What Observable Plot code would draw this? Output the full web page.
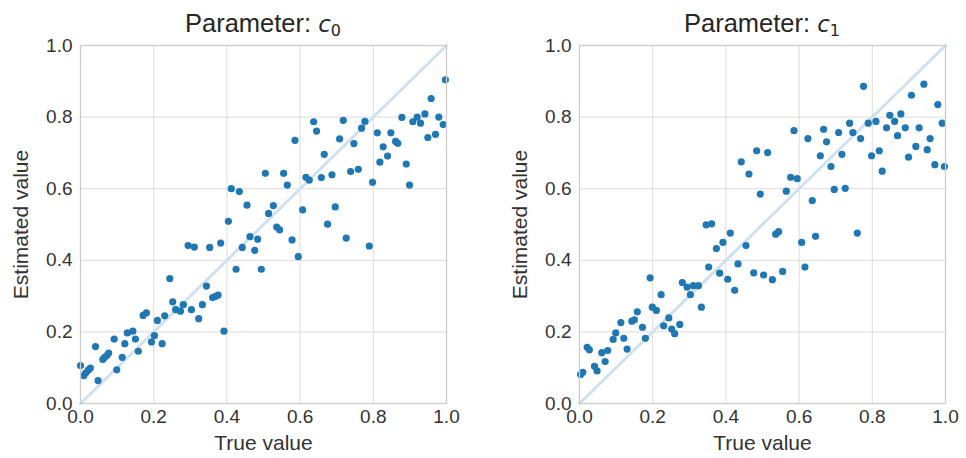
<!DOCTYPE html>
<html><head><meta charset="utf-8">
<script src="https://cdn.jsdelivr.net/npm/d3@7"></script>
<script src="https://cdn.jsdelivr.net/npm/@observablehq/plot@0.6"></script>
<style>
body{margin:0;background:#fff;font-family:"Liberation Sans",Arial,sans-serif;}
#wrap{position:relative;width:966px;height:458px;overflow:hidden;}
.panel{position:absolute;top:0;}
.title{box-sizing:border-box;height:40px;padding-top:11px;margin-left:80px;width:366px;text-align:center;font-size:25.5px;line-height:25.5px;color:#262626;white-space:nowrap;}
.title i{font-family:"DejaVu Sans";font-style:italic;font-size:23px;}
.title sub{font-family:"DejaVu Sans";font-size:16px;vertical-align:-4px;line-height:0;}
svg{display:block;}
</style></head>
<body><div id="wrap"></div>
<script>
const ticks = [0, 0.2, 0.4, 0.6, 0.8, 1.0];
const tickLabels = ["0.0", "0.2", "0.4", "0.6", "0.8", "1.0"];
const diag = [0, 1];

// Parameter c0
const c0True = [0.000,0.009,0.014,0.021,0.027,0.048,0.041,0.061,0.066,0.072,0.077,0.099,0.092,0.114,0.121,0.128,0.143,0.150,0.158,0.171,0.180,0.194,0.202,0.210,0.223,0.230,0.244,0.252,0.260,0.273,0.281,0.303,0.323,0.333,0.344,0.361,0.369,0.376,0.392,0.294,0.311,0.353,0.383,0.404,0.425,0.442,0.463,0.476,0.484,0.494,0.412,0.434,0.455,0.505,0.514,0.527,0.536,0.544,0.555,0.565,0.578,0.595,0.586,0.607,0.616,0.625,0.637,0.645,0.658,0.666,0.675,0.687,0.696,0.708,0.718,0.726,0.738,0.747,0.759,0.768,0.777,0.789,0.798,0.811,0.818,0.827,0.839,0.848,0.861,0.867,0.878,0.890,0.899,0.908,0.920,0.929,0.941,0.949,0.958,0.970,0.979,0.991,0.997];
const c0Est  = [0.106,0.078,0.085,0.093,0.099,0.064,0.159,0.123,0.129,0.134,0.141,0.094,0.180,0.129,0.167,0.197,0.202,0.180,0.146,0.246,0.253,0.172,0.190,0.232,0.167,0.245,0.349,0.284,0.262,0.258,0.276,0.262,0.237,0.276,0.328,0.296,0.299,0.303,0.202,0.441,0.437,0.436,0.448,0.509,0.375,0.436,0.466,0.428,0.459,0.375,0.600,0.592,0.554,0.643,0.531,0.553,0.493,0.485,0.643,0.610,0.457,0.410,0.735,0.541,0.632,0.624,0.787,0.761,0.631,0.696,0.501,0.639,0.549,0.739,0.791,0.462,0.648,0.726,0.654,0.769,0.788,0.440,0.618,0.756,0.674,0.717,0.691,0.756,0.732,0.727,0.799,0.669,0.610,0.787,0.800,0.783,0.809,0.743,0.852,0.752,0.800,0.779,0.904];

// Parameter c1
const c1True = [0.003,0.009,0.021,0.027,0.041,0.048,0.061,0.077,0.070,0.092,0.099,0.113,0.121,0.130,0.143,0.150,0.158,0.172,0.180,0.193,0.199,0.210,0.223,0.230,0.244,0.252,0.260,0.274,0.281,0.294,0.303,0.311,0.325,0.333,0.346,0.361,0.353,0.374,0.383,0.392,0.405,0.412,0.424,0.433,0.455,0.442,0.463,0.484,0.494,0.476,0.503,0.514,0.527,0.536,0.544,0.555,0.565,0.577,0.595,0.586,0.607,0.616,0.624,0.636,0.645,0.658,0.667,0.675,0.687,0.696,0.708,0.717,0.726,0.738,0.747,0.759,0.768,0.776,0.789,0.798,0.810,0.819,0.827,0.839,0.848,0.861,0.869,0.878,0.890,0.899,0.907,0.919,0.928,0.941,0.950,0.958,0.971,0.979,0.991,0.997];
const c1Est  = [0.081,0.087,0.157,0.150,0.104,0.091,0.142,0.148,0.117,0.179,0.197,0.226,0.182,0.152,0.230,0.234,0.256,0.213,0.182,0.351,0.269,0.260,0.304,0.217,0.239,0.208,0.195,0.221,0.338,0.325,0.304,0.329,0.329,0.269,0.499,0.502,0.381,0.433,0.364,0.450,0.347,0.476,0.316,0.390,0.441,0.675,0.641,0.706,0.585,0.365,0.359,0.701,0.346,0.473,0.480,0.369,0.593,0.632,0.628,0.762,0.450,0.381,0.740,0.567,0.467,0.692,0.766,0.731,0.662,0.598,0.757,0.696,0.601,0.783,0.757,0.476,0.740,0.886,0.783,0.692,0.788,0.706,0.649,0.770,0.805,0.788,0.748,0.809,0.770,0.688,0.861,0.718,0.770,0.892,0.709,0.740,0.667,0.835,0.783,0.662];

const panels = [
  {sub: "0", xs: c0True, ys: c0Est, left: 0, width: 499, mr: 53},
  {sub: "1", xs: c1True, ys: c1Est, left: 499, width: 467, mr: 21}
];

const wrap = document.getElementById("wrap");
for (const p of panels) {
  const data = p.xs.map((x, i) => ({x, y: p.ys[i]}));
  const div = document.createElement("div");
  div.className = "panel";
  div.style.left = p.left + "px";
  const t = document.createElement("div");
  t.className = "title";
  t.innerHTML = `Parameter: <i>c</i><sub>${p.sub}</sub>`;
  div.appendChild(t);
  const fmt = d => tickLabels[ticks.indexOf(d)];
  const chart = Plot.plot({
    width: p.width, height: 418,
    marginTop: 5, marginBottom: 55, marginLeft: 80, marginRight: p.mr,
    style: {fontSize: "19px", fontFamily: "'Liberation Sans', Arial, sans-serif", color: "#333", background: "#fff", overflow: "visible"},
    x: {domain: [0, 1]},
    y: {domain: [0, 1]},
    marks: [
      Plot.gridX(ticks, {stroke: "#dcdcdc", strokeOpacity: 1, strokeWidth: 1}),
      Plot.gridY(ticks, {stroke: "#dcdcdc", strokeOpacity: 1, strokeWidth: 1}),
      Plot.line(diag, {x: d => d, y: d => d, stroke: "#cfe1ef", strokeWidth: 3}),
      Plot.dot(data, {x: "x", y: "y", r: 3.6, fill: "#1f77b4", stroke: "none"}),
      Plot.frame({stroke: "#cccccc", strokeWidth: 1.3}),
      Plot.axisX(ticks, {tickSize: 0, tickPadding: 6, tickFormat: fmt, label: null}),
      Plot.axisX({label: "True value", labelAnchor: "center", labelArrow: "none", labelOffset: 46, fontSize: 21, ticks: [], tickSize: 0}),
      Plot.axisY(ticks, {tickSize: 0, tickPadding: 8, tickFormat: fmt, label: null}),
      Plot.axisY({label: "Estimated value", labelAnchor: "center", labelArrow: "none", labelOffset: 67, fontSize: 21, ticks: [], tickSize: 0})
    ]
  });
  div.appendChild(chart);
  wrap.appendChild(div);
}
</script></body></html>
